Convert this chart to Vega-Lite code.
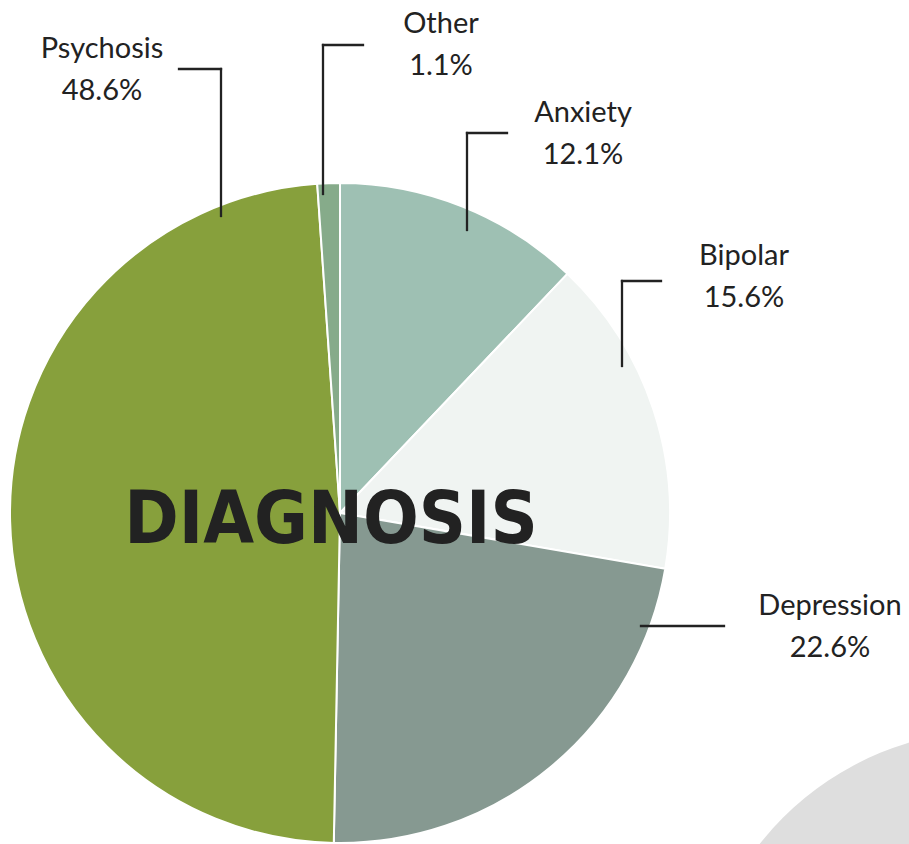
{
  "$schema": "https://vega.github.io/schema/vega-lite/v6.json",
  "width": 909,
  "height": 844,
  "autosize": "none",
  "padding": 0,
  "background": "white",
  "config": {"view": {"stroke": null}},
  "datasets": {
    "slices": [
      {"cat": "Anxiety", "pct": 12.1, "ord": 1},
      {"cat": "Bipolar", "pct": 15.6, "ord": 2},
      {"cat": "Depression", "pct": 22.6, "ord": 3},
      {"cat": "Psychosis", "pct": 48.6, "ord": 4},
      {"cat": "Other", "pct": 1.1, "ord": 5}
    ],
    "leaders": [
      {"cat": "Psychosis", "x1": -161, "y1": 444, "x2": -119, "y2": 444},
      {"cat": "Psychosis", "x1": -119, "y1": 444, "x2": -119, "y2": 297},
      {"cat": "Other", "x1": -17, "y1": 468, "x2": 23, "y2": 468},
      {"cat": "Other", "x1": -17, "y1": 468, "x2": -17, "y2": 319},
      {"cat": "Anxiety", "x1": 127, "y1": 380, "x2": 167, "y2": 380},
      {"cat": "Anxiety", "x1": 127, "y1": 380, "x2": 127, "y2": 283},
      {"cat": "Bipolar", "x1": 282, "y1": 232, "x2": 321, "y2": 232},
      {"cat": "Bipolar", "x1": 282, "y1": 232, "x2": 282, "y2": 147},
      {"cat": "Depression", "x1": 301, "y1": -113, "x2": 384, "y2": -113}
    ],
    "labels": [
      {"cat": "Psychosis", "label": "Psychosis\n48.6%", "lx": -238, "ly": 455},
      {"cat": "Other", "label": "Other\n1.1%", "lx": 101, "ly": 480},
      {"cat": "Anxiety", "label": "Anxiety\n12.1%", "lx": 243, "ly": 391},
      {"cat": "Bipolar", "label": "Bipolar\n15.6%", "lx": 404, "ly": 248},
      {"cat": "Depression", "label": "Depression\n22.6%", "lx": 490, "ly": -102}
    ],
    "deco": [{"name": "backdrop", "cx": 655, "cy": -517}],
    "title": [{"text": "DIAGNOSIS", "tx": -9, "ty": -30}]
  },
  "layer": [
    {
      "data": {"name": "deco"},
      "mark": {"type": "point", "shape": "circle", "filled": true, "size": 360000, "color": "#dedede", "opacity": 1, "strokeWidth": 0},
      "encoding": {
        "x": {"field": "cx", "type": "quantitative", "scale": {"domain": [-340, 569], "zero": false, "nice": false}, "axis": null},
        "y": {"field": "cy", "type": "quantitative", "scale": {"domain": [-331, 513], "zero": false, "nice": false}, "axis": null}
      }
    },
    {
      "data": {"name": "slices"},
      "mark": {"type": "arc", "outerRadius": 330, "stroke": "white", "strokeWidth": 2},
      "encoding": {
        "x": {"datum": 0, "type": "quantitative"},
        "y": {"datum": 0, "type": "quantitative"},
        "theta": {"field": "pct", "type": "quantitative", "stack": true},
        "order": {"field": "ord", "type": "quantitative"},
        "color": {
          "field": "cat", "type": "nominal", "legend": null,
          "scale": {"domain": ["Anxiety", "Bipolar", "Depression", "Psychosis", "Other"],
                    "range": ["#9ec0b3", "#f0f4f2", "#869991", "#87a03c", "#86ab8a"]}
        }
      }
    },
    {
      "data": {"name": "leaders"},
      "mark": {"type": "rule", "color": "#222222", "strokeWidth": 2.3, "strokeCap": "square"},
      "encoding": {
        "x": {"field": "x1", "type": "quantitative"},
        "y": {"field": "y1", "type": "quantitative"},
        "x2": {"field": "x2"},
        "y2": {"field": "y2"}
      }
    },
    {
      "data": {"name": "labels"},
      "mark": {"type": "text", "font": "Lato", "fontSize": 29, "color": "#222222", "align": "center", "baseline": "alphabetic", "lineBreak": "\n", "lineHeight": 42},
      "encoding": {
        "x": {"field": "lx", "type": "quantitative"},
        "y": {"field": "ly", "type": "quantitative"},
        "text": {"field": "label"}
      }
    },
    {
      "data": {"name": "title"},
      "mark": {"type": "text", "font": "DejaVu Sans Condensed, DejaVu Sans, sans-serif", "fontWeight": "bold", "fontSize": 73, "color": "#222222", "align": "center", "baseline": "alphabetic"},
      "encoding": {
        "x": {"field": "tx", "type": "quantitative"},
        "y": {"field": "ty", "type": "quantitative"},
        "text": {"field": "text"}
      }
    }
  ]
}
